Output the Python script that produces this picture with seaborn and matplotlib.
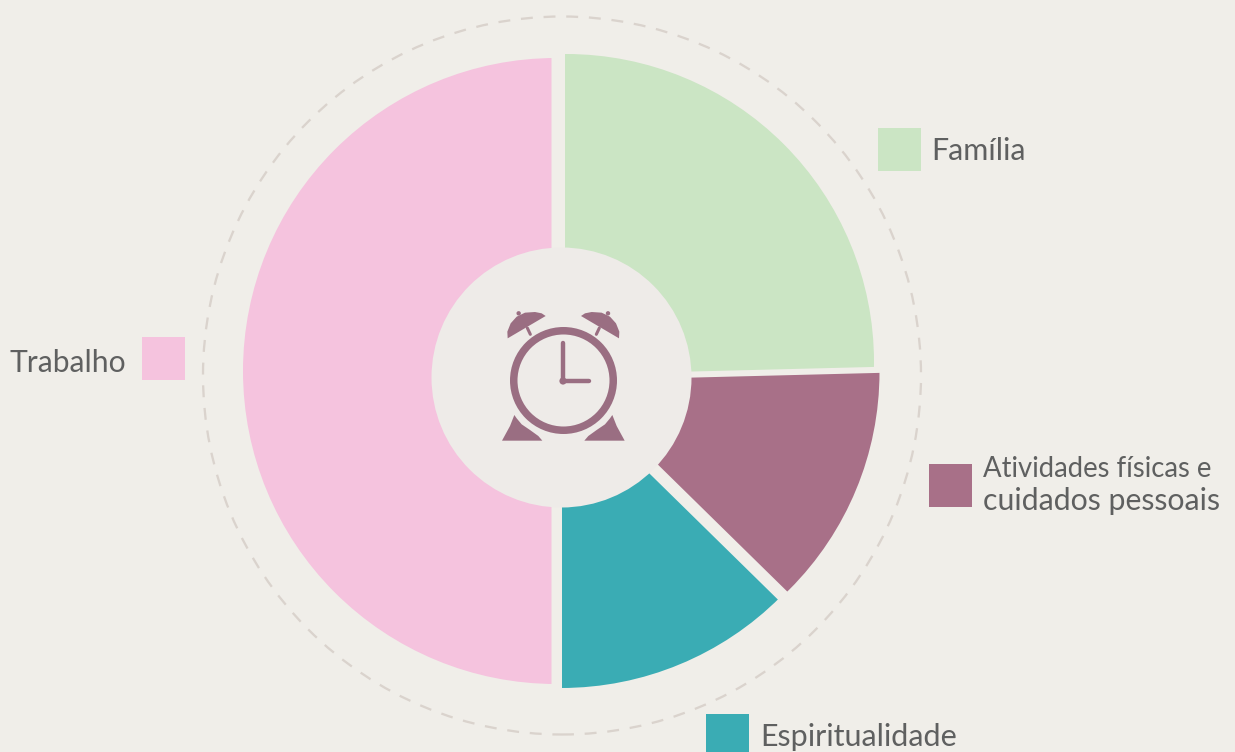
import matplotlib.pyplot as plt
import seaborn as sns
from matplotlib.patches import Circle, Polygon, Rectangle

# Dados do grafico
categorias = ["Família", "Atividades físicas e\ncuidados pessoais", "Espiritualidade", "Trabalho"]
valores = [24.6, 12.75, 12.65, 50.0]
cores = ["#CBE5C4", "#A87088", "#3AACB4", "#F5C3DE"]

# Estilo, em pixels da imagem: vertice da fatia e circulo que corta o arco
LARGURA, ALTURA = 1235, 752
vertices = [(565, 374.7), (572.3, 380.6), (562, 387.7), (551.5, 371)]
arcos = [(566, 362, 308), (572, 372, 307.5), (561, 378, 310), (556, 371, 313)]
legenda_xy = [(878, 128), (929, 464), (706, 714), (142, 337)]
# x, linha de base de cada linha, alinhamento, corpo de cada linha
texto_xy = [
    (931, [160], "left", [22]),
    (983, [477, 510], "left", [19.8, 21.8]),
    (760, [746], "left", [22]),
    (126, [372], "right", [21.6]),
]

FUNDO = "#F0EEE9"
MIOLO = "#EEEBE8"
COR_RELOGIO = "#9A6E82"
COR_TEXTO = "#5F6060"

sns.set_theme(style="white", rc={"figure.facecolor": FUNDO, "axes.facecolor": FUNDO})
plt.rcParams["font.family"] = ["Lato", "DejaVu Sans"]


def py(y):
    return ALTURA - y


fig = plt.figure(figsize=(LARGURA / 100, ALTURA / 100), dpi=100)
ax = fig.add_axes([0, 0, 1, 1])

# Rosca: cada fatia tem vertice proprio e o arco vem de um circulo de recorte
fatias, _ = ax.pie(valores, colors=cores, startangle=90, counterclock=False, radius=345,
                   frame=False, wedgeprops={"edgecolor": "none", "linewidth": 0})
ax.set_xlim(0, LARGURA)
ax.set_ylim(0, ALTURA)
ax.set_aspect("equal")
ax.axis("off")
for fatia, (vx, vy), (cx, cy, raio) in zip(fatias, vertices, arcos):
    fatia.set_center((vx, py(vy)))
    fatia.set_clip_on(True)
    fatia.set_clip_path(Circle((cx, py(cy)), raio, transform=ax.transData))

ax.add_patch(Circle((561.5, py(377.5)), 130, fc=MIOLO, ec="none", zorder=3))
ax.add_patch(Circle((562, py(375.5)), 359, fc="none", ec="#DAD3CD", lw=1.65,
                    ls=(0, (5.2, 4.7)), zorder=1))

# Legenda
for (x, y), cor in zip(legenda_xy, cores):
    ax.add_patch(Rectangle((x, py(y + 43)), 43, 43, fc=cor, ec="none", zorder=3))
for (x, bases, ha, corpos), nome in zip(texto_xy, categorias):
    for linha, base, corpo in zip(nome.split("\n"), bases, corpos):
        ax.text(x, py(base), linha, ha=ha, va="baseline", fontsize=corpo,
                color=COR_TEXTO, zorder=4)


# Relogio: coordenadas lidas em pixels, a partir do canto do recorte
def rx(x):
    return 480 + x / 3


def ry(y):
    return py(290 + y / 3)


def forma(pontos):
    return [(rx(x), ry(y)) for x, y in pontos]


sino = [(83, 145), (82, 125), (92, 100), (110, 80), (135, 68), (165, 66), (185, 70), (197, 78)]
pe = [(103, 375), (90, 408), (66, 452), (187, 452), (175, 438), (150, 420), (125, 403), (110, 385)]
for pontos in (sino, pe):
    ax.add_patch(Polygon(forma(pontos), fc=COR_RELOGIO, ec="none", zorder=5))
    espelho = [(500 - x, y) for x, y in pontos]
    ax.add_patch(Polygon(forma(espelho), fc=COR_RELOGIO, ec="none", zorder=5))

ax.add_patch(Circle((563.5, py(380.5)), 49.75, fc="none", ec=COR_RELOGIO, lw=5.4, zorder=5))
ax.add_patch(Circle((563, py(381)), 3.6, fc=COR_RELOGIO, ec="none", zorder=6))
for x in (116, 384):
    ax.add_patch(Circle((rx(x), ry(70)), 2.2, fc=COR_RELOGIO, ec="none", zorder=5))
for x0, x1 in ((142, 151), (358, 349)):
    ax.plot([rx(x0), rx(x1)], [ry(114), ry(133)], color=COR_RELOGIO, lw=2.2,
            solid_capstyle="round", zorder=5)
ax.plot([563, 563], [py(381), py(343)], color=COR_RELOGIO, lw=3.2, solid_capstyle="round", zorder=6)
ax.plot([563, 589], [py(381), py(381)], color=COR_RELOGIO, lw=3.2, solid_capstyle="round", zorder=6)

plt.savefig("out.png", dpi=100, facecolor=FUNDO)
plt.close()
